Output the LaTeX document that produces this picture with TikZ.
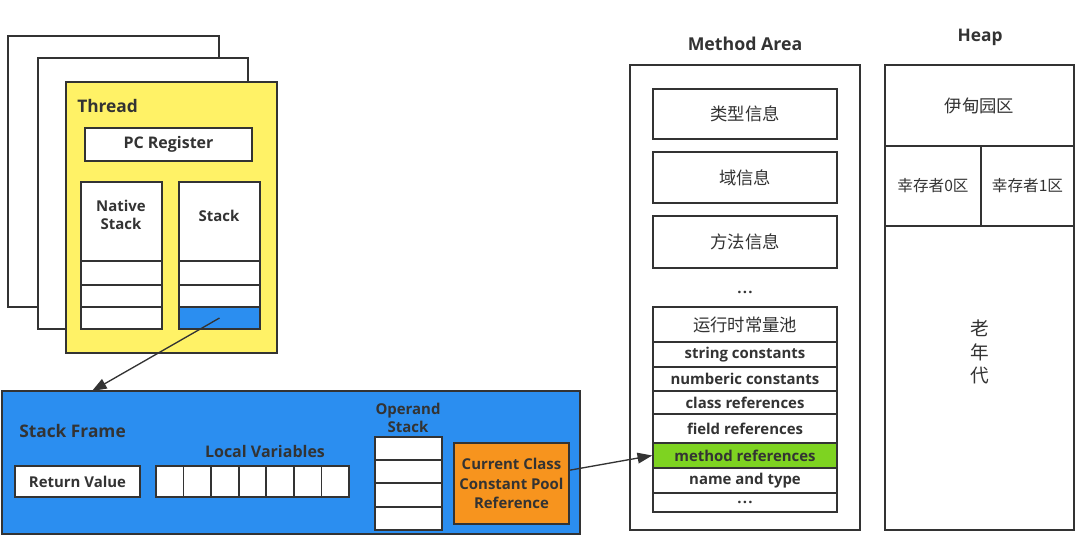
\documentclass[tikz,border=0pt]{standalone}
\usepackage{fontspec}
\setmainfont{Open Sans}
\newfontfamily\cjk{Noto Sans CJK SC}
\usetikzlibrary{fit,arrows.meta}

\definecolor{edge}{HTML}{333333}
\definecolor{threadyellow}{HTML}{FFF266}
\definecolor{frameblue}{HTML}{2B8EF0}
\definecolor{poolorange}{HTML}{F7941E}
\definecolor{refgreen}{HTML}{7ED321}

\tikzset{
  part/.style={draw=edge, line width=1.2pt, inner sep=0pt, fill=white,
    label={[partlabel]center:#1}},
  part/.default={},
  partlabel/.style={text=edge, inner sep=0pt, align=center,
    font=\bfseries\fontsize{11.2}{14.5}\selectfont},
  zhlabel/.style={partlabel, font=\cjk\fontsize{13}{15}\selectfont},
  zhpart/.style={draw=edge, line width=1.2pt, inner sep=0pt, fill=white,
    label={[zhlabel]center:#1}},
  heading/.style={text=edge, inner sep=0pt, font=\bfseries\fontsize{13}{15}\selectfont},
  smallhead/.style={text=edge, inner sep=0pt, align=center, font=\bfseries\fontsize{11.2}{14}\selectfont},
  link/.style={draw=edge, line width=1pt, -{Triangle[length=11pt,width=8pt]}},
}

\begin{document}
\begin{tikzpicture}[x=0.75pt,y=-0.75pt]
\useasboundingbox (0,0) rectangle (1078,540);

% threads
\node[part, fit={(8,36)(219,307)}] (page1) {};
\node[part, fit={(38,58)(248,329)}] (page2) {};
\node[part, fill=threadyellow, fit={(66,82)(277,353)}] (thread) {};
\node[heading, anchor=west] (threadlabel) at (77,106) {Thread};
\node[part={\fontsize{12}{14}\selectfont PC Register}, fit={(85,128)(252,161)}] (pc) {};

% native stack and stack
\node[part, fit={(81,182)(162,261)}] (native) {};
\node[smallhead] (nativelabel) at (121,215) {Native\\Stack};
\node[part, fit={(179,182)(260,261)}] (stack) {};
\node[smallhead] (stacklabel) at (219,216) {Stack};
\foreach \a/\b [count=\i] in {261/285,285/307,307/329}{
  \node[part, fit={(81,\a)(162,\b)}] (native\i) {};
  \node[part, fit={(179,\a)(260,\b)}] (stack\i) {};
}
\node[part, fill=frameblue, fit={(179,307)(260,329)}] (stack3) {};

% stack frame
\node[part, fill=frameblue, fit={(2,391)(580,534)}] (frame) {};
\coordinate (frametop) at (92,391);
\draw[link] (stack3.center) -- (frametop);
\node[heading, anchor=west] (framelabel) at (19,431) {Stack Frame};
\node[part={Return Value}, fit={(15,466)(140,497)}] (retval) {};
\node[smallhead, font=\bfseries\fontsize{12}{14}\selectfont] (localslabel) at (265,451) {Local Variables};
\foreach \i in {0,1,2,3,4,5,6}{
  \node[part, fit={({156+\i*27.57},466)({156+(\i+1)*27.57},497)}] (local\i) {};
}
\node[smallhead] (operandlabel) at (408,418) {Operand\\Stack};
\foreach \a/\b [count=\i] in {437/460,460/483,483/507,507/530}{
  \node[part, fit={(375,\a)(442,\b)}] (operand\i) {};
}
\node[part={Current Class\\Constant Pool\\Reference}, fill=poolorange,
  fit={(454,443)(569,524)}] (cpref) {};

% method area
\node[heading, font=\bfseries\fontsize{13.3}{15}\selectfont] (methodtitle) at (745,44) {Method Area};
\node[part, fit={(630,65)(860,530)}] (method) {};
\node[zhpart=类型信息, fit={(653,89)(837,139)}] (typeinfo) {};
\node[zhpart=域信息, fit={(653,152)(837,203)}] (fieldinfo) {};
\node[zhpart=方法信息, fit={(653,216)(837,268)}] (methodinfo) {};
\node[smallhead] (dots) at (745,292) {.\kern1pt.\kern1pt.};
\node[zhpart=运行时常量池, fit={(653,307)(837,342)}] (pooltitle) {};
\foreach \a/\b/\txt [count=\i] in {342/367/string constants,367/391/numberic constants,
  391/414/class references,414/443/field references,468/493/name and type}{
  \node[part=\txt, fit={(653,\a)(837,\b)}] (pool\i) {};
}
\node[part={.\kern1pt.\kern1pt.}, fit={(653,493)(837,512)}] (poolmore) {};
\node[part={method references}, fill=refgreen, fit={(653,443)(837,468)}] (methodref) {};
\draw[link] ([yshift=10pt]cpref.east) -- (methodref.west);

% heap
\node[heading] (heaptitle) at (980,37) {Heap};
\node[part, fit={(885,65)(1074,530)}] (heap) {};
\node[zhpart=伊甸园区, fit={(885,65)(1074,146)}] (eden) {};
\node[zhpart={\fontsize{11.7}{13}\selectfont 幸存者0区}, fit={(885,146)(981,226)}] (survivor0) {};
\node[zhpart={\fontsize{11.7}{13}\selectfont 幸存者1区}, fit={(981,146)(1074,226)}] (survivor1) {};
\node[part, fit={(885,226)(1074,530)}] (old) {};
\node[text=edge, align=center, font=\cjk\fontsize{14}{17.5}\selectfont] (oldlabel) at (980,352) {老\\年\\代};
\end{tikzpicture}
\end{document}
